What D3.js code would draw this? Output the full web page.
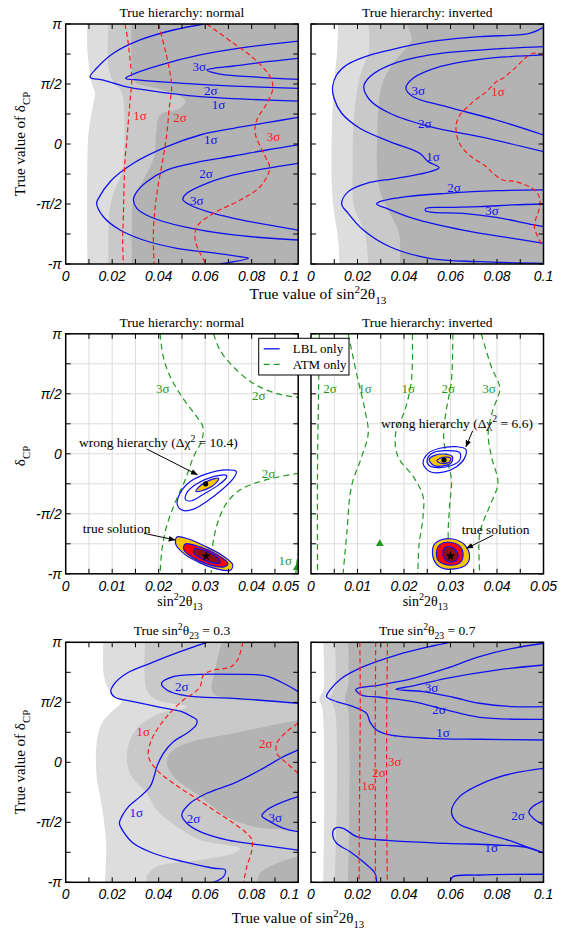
<!DOCTYPE html>
<html><head><meta charset="utf-8">
<script src="https://cdn.jsdelivr.net/npm/d3@7"></script>
<style>
body{margin:0;background:#fff}
svg{display:block}
</style></head><body><svg id="fig" width="568" height="930"></svg>
<script>
// all curves: [sin^2 2theta13, deltaCP / pi]

// ---- panel 1: true hierarchy normal (top left)
const p1Light = [[0.0093,1],[0.0093,0.783],[0.0102,0.617],[0.0112,0.506],[0.0126,0.422],[0.0116,0.311],[0.0098,0.089],[0.0093,-0.189],[0.0093,-1]];
const p1Mid = [[0.0184,1],[0.0184,0.644],[0.0205,0.519],[0.0241,0.436],[0.0251,0.311],[0.0251,-0.05],[0.0241,-0.244],[0.0205,-0.411],[0.0186,-0.606],[0.0184,-1]];
const p1Dark = [[0.0284,1],[0.0284,0.644],[0.0298,0.519],[0.0392,0.464],[0.0514,0.367],[0.0492,0.297],[0.0406,0.242],[0.0389,0.089],[0.038,-0.106],[0.0334,-0.3],[0.0291,-0.467],[0.0284,-0.744],[0.0284,-1]];
const p1Blue = [
  [[0.0593,1],[0.0463,0.95],[0.032,0.867],[0.0205,0.756],[0.0133,0.631],[0.0105,0.556],[0.0162,0.533],[0.0248,0.483],[0.0363,0.444],[0.0578,0.394],[0.0793,0.372],[0.1,0.358]],
  [[0.1,0.858],[0.0793,0.811],[0.0578,0.742],[0.0406,0.658],[0.0291,0.583],[0.0258,0.547],[0.032,0.533],[0.0506,0.506],[0.0722,0.483],[0.1,0.464]],
  [[0.1,0.714],[0.0865,0.686],[0.0722,0.65],[0.0636,0.631],[0.0607,0.617],[0.0664,0.583],[0.0836,0.556],[0.1,0.539]],
  [[0.1,0.222],[0.0865,0.178],[0.0722,0.131],[0.0578,0.075],[0.0435,-0.022],[0.0291,-0.161],[0.0191,-0.314],[0.0141,-0.453],[0.0133,-0.494],[0.0162,-0.606],[0.0234,-0.717],[0.0334,-0.8],[0.0478,-0.869],[0.065,-0.911],[0.075,-0.939],[0.0786,-0.953],[0.0664,-1]],
  [[0.1,-0.008],[0.0865,-0.05],[0.0722,-0.1],[0.0578,-0.147],[0.0435,-0.217],[0.0349,-0.314],[0.0306,-0.397],[0.0291,-0.467],[0.0306,-0.536],[0.0363,-0.606],[0.0506,-0.689],[0.0722,-0.758],[0.1,-0.8]],
  [[0.1,-0.161],[0.0865,-0.203],[0.0722,-0.258],[0.0607,-0.328],[0.0521,-0.411],[0.0504,-0.461],[0.0535,-0.508],[0.0636,-0.578],[0.0793,-0.647],[0.1,-0.717]]
];
const p1Red = [
  [[0.0255,1],[0.0267,0.867],[0.028,0.644],[0.0284,0.533],[0.0277,0.367],[0.027,0.2],[0.0263,0.033],[0.0255,-0.133],[0.0251,-0.356],[0.0248,-0.606],[0.0245,-0.8],[0.0248,-1]],
  [[0.0399,1],[0.0428,0.783],[0.0449,0.589],[0.0456,0.478],[0.0446,0.311],[0.0435,0.089],[0.042,-0.106],[0.0399,-0.328],[0.0385,-0.522],[0.0377,-0.744],[0.038,-1]],
  [[0.0607,1],[0.0722,0.839],[0.0808,0.714],[0.0879,0.561],[0.0891,0.464],[0.0865,0.339],[0.0822,0.2],[0.0815,0.089],[0.0851,-0.078],[0.0877,-0.203],[0.0836,-0.356],[0.075,-0.467],[0.0636,-0.578],[0.0564,-0.689],[0.0557,-0.8],[0.0578,-0.911],[0.0604,-1]]
];
const p1BlueLbl = [[0.0575,0.644,"3σ"],[0.0624,0.444,"2σ"],[0.0657,0.333,"1σ"],[0.0624,0.039,"1σ"],[0.0603,-0.244,"2σ"],[0.0564,-0.467,"3σ"]];
const p1RedLbl = [[0.032,0.242,"1σ"],[0.0492,0.222,"2σ"],[0.0894,0.067,"3σ"]];

// ---- panel 2: true hierarchy inverted (top right)
const p2Light = [[0.0117,1],[0.0113,0.783],[0.0099,0.506],[0.0089,0.089],[0.0093,-0.467],[0.0117,-0.8],[0.0122,-1]];
const p2Mid = [[0.0246,1],[0.025,0.783],[0.021,0.561],[0.0185,0.228],[0.0179,-0.189],[0.0185,-0.522],[0.0232,-0.744],[0.0246,-1]];
const p2Dark = [[0.0411,1],[0.0432,0.867],[0.0353,0.672],[0.0303,0.478],[0.0285,0.089],[0.0292,-0.356],[0.0339,-0.578],[0.0379,-0.744],[0.0382,-1]];
const p2Blue = [
  [[0.1,0.972],[0.094,0.922],[0.0725,0.894],[0.0511,0.853],[0.0339,0.783],[0.0225,0.722],[0.0153,0.658],[0.011,0.575],[0.0093,0.478],[0.0099,0.381],[0.0132,0.256],[0.021,0.131],[0.0339,0.019],[0.0468,-0.078],[0.0504,-0.147],[0.0551,-0.197],[0.0496,-0.239],[0.0368,-0.286],[0.0239,-0.328],[0.016,-0.397],[0.0132,-0.5],[0.016,-0.578],[0.0225,-0.717],[0.0339,-0.856],[0.0511,-0.953],[0.0725,-0.981],[0.1,-0.994]],
  [[0.1,0.811],[0.0725,0.783],[0.0511,0.742],[0.0339,0.658],[0.0253,0.561],[0.0227,0.478],[0.0253,0.367],[0.0339,0.256],[0.0511,0.144],[0.0725,0.061],[0.1,-0.064]],
  [[0.1,0.742],[0.0725,0.706],[0.0554,0.644],[0.0439,0.547],[0.0408,0.464],[0.0439,0.394],[0.0582,0.311],[0.0797,0.2],[0.1,0.075]],
  [[0.1,-0.383],[0.0797,-0.389],[0.0582,-0.411],[0.0411,-0.439],[0.0296,-0.481],[0.0282,-0.5],[0.0325,-0.536],[0.0439,-0.619],[0.0654,-0.717],[0.0868,-0.786],[0.1,-0.828]],
  [[0.1,-0.5],[0.0868,-0.508],[0.0725,-0.522],[0.0582,-0.528],[0.0496,-0.536],[0.0492,-0.556],[0.0525,-0.569],[0.0654,-0.578],[0.0797,-0.611],[0.094,-0.667],[0.1,-0.689]]
];
const p2Red = [
  [[0.1,0.742],[0.0954,0.756],[0.0868,0.617],[0.0825,0.547],[0.0797,0.519],[0.0754,0.436],[0.069,0.339],[0.0632,0.214],[0.0625,0.089],[0.0647,-0.022],[0.069,-0.106],[0.0754,-0.189],[0.0783,-0.244],[0.0825,-0.3],[0.0883,-0.314],[0.0969,-0.397],[0.0986,-0.494],[0.0961,-0.689],[0.099,-0.828]]
];
const p2BlueLbl = [[0.0461,0.45,"3σ"],[0.0489,0.172,"2σ"],[0.0525,-0.106,"1σ"],[0.0615,-0.364,"2σ"],[0.0778,-0.55,"3σ"]];
const p2RedLbl = [[0.0804,0.436,"1σ"]];

// ---- panel 3: LBL vs ATM, normal (middle left)
const p3Green = [
  [[0.0203,1],[0.021,0.806],[0.0225,0.64],[0.025,0.474],[0.0282,0.308],[0.0295,0.225],[0.0293,0.115],[0.0275,-0.024],[0.0257,-0.217],[0.0235,-0.411],[0.0217,-0.604],[0.0207,-0.798],[0.0203,-1]],
  [[0.0318,1],[0.0332,0.862],[0.0361,0.723],[0.0404,0.585],[0.0454,0.502],[0.0502,0.469]],
  [[0.0502,-0.162],[0.0461,-0.19],[0.0418,-0.231],[0.0375,-0.3],[0.0346,-0.411],[0.0329,-0.549],[0.0318,-0.715],[0.0314,-0.853],[0.0313,-1]],
  [[0.0502,-0.798],[0.0497,-0.909],[0.0495,-1]]
];
const p3GreenLbl = [[0.0209,0.544,"3σ"],[0.0415,0.488,"2σ"],[0.0436,-0.167,"2σ"],[0.0472,-0.887,"1σ"]];
const p3WrongRings = [
  [[0.0367,-0.148],[0.0346,-0.134],[0.0303,-0.167],[0.0268,-0.231],[0.0246,-0.328],[0.024,-0.425],[0.0252,-0.472],[0.0275,-0.461],[0.0303,-0.397],[0.0336,-0.3],[0.0361,-0.203]],
  [[0.0346,-0.181],[0.0318,-0.19],[0.0282,-0.25],[0.026,-0.328],[0.0258,-0.383],[0.0271,-0.391],[0.03,-0.328],[0.0329,-0.259],[0.0345,-0.203]],
  [[0.0329,-0.203],[0.0303,-0.231],[0.0286,-0.278],[0.028,-0.314],[0.0293,-0.308],[0.0314,-0.272],[0.0326,-0.231]]
];
const p3TrueRings = [
  [[0.0239,-0.693],[0.0264,-0.71],[0.0303,-0.776],[0.0339,-0.853],[0.0359,-0.923],[0.0354,-0.97],[0.0325,-0.959],[0.0289,-0.909],[0.0257,-0.84],[0.0237,-0.757]],
  [[0.0257,-0.751],[0.0289,-0.776],[0.0325,-0.84],[0.0349,-0.914],[0.034,-0.942],[0.0303,-0.917],[0.0271,-0.859],[0.0254,-0.798]],
  [[0.0278,-0.792],[0.0303,-0.812],[0.0329,-0.876],[0.0331,-0.909],[0.0311,-0.903],[0.0289,-0.867],[0.0275,-0.826]]
];
const p3WrongDot = [0.0301,-0.25];
const p3TrueStar = [0.0302,-0.853];
const p3Tri = [0.0497,-0.95];
const p3Notes = [
  {text:[["wrong hierarchy (Δχ",""],["2","sup"],[" = 10.4)",""]], at:[0.00286,0.053], from:[0.01742,0.04], to:[0.0283,-0.174]},
  {text:[["true solution",""]], at:[0.00366,-0.664], from:[0.01682,-0.6625], to:[0.02351,-0.718]}
];

// ---- panel 4: LBL vs ATM, inverted (middle right)
const p4Green = [
  [[0.0018,1],[0.0016,0.447],[0.0014,-0.107],[0.0014,-1]],
  [[0.008,1],[0.0098,0.668],[0.0116,0.364],[0.0123,0.17],[0.0109,-0.024],[0.0087,-0.272],[0.0077,-0.66],[0.0069,-1]],
  [[0.0218,1],[0.0216,0.613],[0.0202,0.364],[0.0182,0.17],[0.0187,-0.024],[0.022,-0.19],[0.0241,-0.355],[0.0241,-0.521],[0.0232,-0.77],[0.023,-1]],
  [[0.0305,1],[0.0302,0.613],[0.0291,0.364],[0.0285,0.17],[0.0291,-0.024],[0.0302,-0.217],[0.0298,-0.438],[0.0295,-0.66],[0.0298,-1]],
  [[0.0366,1],[0.0388,0.723],[0.0406,0.544],[0.0391,0.364],[0.0381,0.17],[0.0388,-0.024],[0.0402,-0.245],[0.0384,-0.438],[0.0363,-0.66],[0.0363,-1]]
];
const p4GreenLbl = [[0.0041,0.544,"2σ"],[0.0116,0.544,"1σ"],[0.0209,0.544,"1σ"],[0.0295,0.544,"2σ"],[0.0383,0.544,"3σ"]];
const p4WrongRings = [
  [[0.0241,-0.079],[0.0252,0.004],[0.0277,0.046],[0.0313,0.059],[0.0333,0.037],[0.033,-0.038],[0.0313,-0.107],[0.0284,-0.153],[0.0255,-0.148]],
  [[0.025,-0.046],[0.0263,0.01],[0.0291,0.026],[0.032,0.01],[0.032,-0.051],[0.0302,-0.098],[0.0273,-0.115],[0.0253,-0.093]],
  [[0.0254,-0.046],[0.0266,-0.013],[0.0291,-0.004],[0.0304,-0.024],[0.0302,-0.073],[0.0284,-0.101],[0.0263,-0.095]],
  [[0.0271,-0.057],[0.0284,-0.029],[0.03,-0.035],[0.0297,-0.071],[0.028,-0.079]]
];
const p4TrueRings = [
  [[0.0263,-0.77],[0.0277,-0.72],[0.0305,-0.71],[0.033,-0.757],[0.0341,-0.853],[0.0334,-0.923],[0.0309,-0.959],[0.028,-0.95],[0.0264,-0.881]],
  [[0.027,-0.812],[0.0277,-0.757],[0.0298,-0.737],[0.032,-0.77],[0.0327,-0.848],[0.032,-0.909],[0.0298,-0.928],[0.0275,-0.895]],
  [[0.0284,-0.812],[0.0291,-0.776],[0.0305,-0.784],[0.0316,-0.84],[0.0313,-0.887],[0.0297,-0.9],[0.0286,-0.867]]
];
const p4WrongDot = [0.0286,-0.051];
const p4TrueStar = [0.03,-0.853];
const p4Tri = [0.0148,-0.75];
const p4Notes = [
  {text:[["wrong hierarchy (Δχ",""],["2","sup"],[" = 6.6)",""]], at:[0.01505,0.219], from:[0.03477,0.1925], to:[0.03333,0.059]},
  {text:[["true solution",""]], at:[0.0324,-0.668], from:[0.0392,-0.677], to:[0.03348,-0.7875]}
];

// ---- panel 5: true sin^2 theta23 = 0.3 (bottom left)
const p5Light = [[0.0162,1],[0.0165,0.714],[0.0191,0.589],[0.0241,0.506],[0.0205,0.436],[0.0155,0.325],[0.0133,0.158],[0.0133,-0.119],[0.0148,-0.286],[0.0162,-0.453],[0.0174,-0.675],[0.0169,-1]];
const p5Mid = [[0.0341,1],[0.0349,0.603],[0.0392,0.519],[0.0521,0.464],[0.0406,0.408],[0.032,0.311],[0.0277,0.186],[0.0263,0.019],[0.0284,-0.119],[0.0349,-0.258],[0.0392,-0.397],[0.0478,-0.536],[0.0578,-0.647],[0.075,-0.717],[0.0722,-0.758],[0.0578,-0.814],[0.0392,-0.869],[0.0349,-0.953],[0.0349,-1]];
const p5DarkTop = [[0.0671,1],[0.0636,0.714],[0.0628,0.603],[0.0664,0.542],[0.1,0.506]];
const p5DarkMid = [[0.1,0.353],[0.0722,0.242],[0.0521,0.158],[0.0449,0.075],[0.0435,-0.008],[0.0463,-0.119],[0.0578,-0.286],[0.0693,-0.453],[0.0808,-0.536],[0.1,-0.564]];
const p5DarkLow = [[0.1,-0.786],[0.0908,-0.842],[0.0836,-0.925],[0.0822,-1]];
const p5Blue = [
  [[0.0607,1],[0.0492,0.922],[0.0363,0.825],[0.0263,0.742],[0.0205,0.644],[0.0194,0.589],[0.0212,0.542],[0.0291,0.506],[0.0392,0.464],[0.0499,0.422],[0.0542,0.381],[0.0564,0.353],[0.0561,0.311],[0.0521,0.242],[0.0463,0.172],[0.042,0.075],[0.0392,-0.036],[0.038,-0.119],[0.0363,-0.203],[0.032,-0.286],[0.027,-0.369],[0.0241,-0.453],[0.0231,-0.508],[0.0248,-0.578],[0.0291,-0.675],[0.0377,-0.758],[0.0506,-0.828],[0.0636,-0.883],[0.0686,-0.897],[0.0679,-0.953],[0.0636,-1]],
  [[0.1,0.589],[0.0951,0.644],[0.0865,0.719],[0.0722,0.733],[0.0578,0.733],[0.0463,0.714],[0.0412,0.658],[0.0435,0.603],[0.0521,0.553],[0.0722,0.533],[0.1,0.492]],
  [[0.1,0.103],[0.0937,0.047],[0.0836,-0.064],[0.0722,-0.175],[0.0607,-0.258],[0.0535,-0.342],[0.0499,-0.439],[0.0521,-0.508],[0.0578,-0.578],[0.0693,-0.647],[0.0836,-0.689],[0.1,-0.731]],
  [[0.1,-0.286],[0.0937,-0.328],[0.0865,-0.397],[0.0844,-0.447],[0.0879,-0.494],[0.0937,-0.55],[0.1,-0.578]]
];
const p5Red = [
  [[0.0762,1],[0.0739,0.853],[0.0707,0.792],[0.0636,0.769],[0.0593,0.728],[0.0578,0.631],[0.0549,0.575],[0.0506,0.519],[0.0435,0.381],[0.0392,0.269],[0.0363,0.158],[0.0356,0.047],[0.0392,-0.064],[0.0463,-0.175],[0.0549,-0.286],[0.0636,-0.397],[0.0722,-0.508],[0.0779,-0.592],[0.0801,-0.647],[0.0801,-0.731],[0.0779,-0.869],[0.0765,-1]],
  [[0.1,0.325],[0.0951,0.256],[0.0908,0.158],[0.0908,0.075],[0.0951,-0.008],[0.1,-0.092]]
];
const p5BlueLbl = [[0.0499,0.636,"2σ"],[0.0303,-0.417,"1σ"],[0.055,-0.472,"2σ"],[0.0901,-0.458,"3σ"]];
const p5RedLbl = [[0.0334,0.256,"1σ"],[0.0861,0.158,"2σ"]];

// ---- panel 6: true sin^2 theta23 = 0.7 (bottom right)
const p6Light = [[0.0053,1],[0.0053,0.603],[0.0036,0.533],[0.005,0.436],[0.0053,-1]];
const p6Mid = [[0.0103,1],[0.0103,0.631],[0.0082,0.533],[0.0103,0.436],[0.0103,-1]];
const p6Dark = [[0.016,1],[0.016,0.644],[0.0146,0.533],[0.016,0.436],[0.016,-1]];
const p6Blue = [
  [[0.0597,1],[0.0511,0.964],[0.0368,0.894],[0.0225,0.797],[0.0132,0.7],[0.0082,0.603],[0.0067,0.547],[0.011,0.506],[0.0182,0.464],[0.0239,0.408],[0.0253,0.339],[0.0282,0.269],[0.0339,0.228],[0.0511,0.2],[0.0725,0.192],[0.1,0.186]],
  [[0.1,0.992],[0.0868,0.95],[0.0725,0.881],[0.0582,0.783],[0.0439,0.7],[0.0296,0.644],[0.0193,0.608],[0.0217,0.561],[0.0296,0.542],[0.0439,0.506],[0.0582,0.436],[0.0725,0.375],[0.1,0.358]],
  [[0.1,0.811],[0.0797,0.769],[0.0582,0.7],[0.0439,0.636],[0.0365,0.608],[0.0482,0.589],[0.0611,0.542],[0.0725,0.492],[0.0868,0.464],[0.1,0.464]],
  [[0.1,-0.05],[0.0868,-0.092],[0.0754,-0.161],[0.0639,-0.286],[0.0604,-0.411],[0.0632,-0.508],[0.0725,-0.578],[0.0868,-0.661],[0.0933,-0.708],[0.1,-0.753]],
  [[0.0282,-1],[0.0275,-0.925],[0.0232,-0.842],[0.0167,-0.744],[0.011,-0.675],[0.0093,-0.606],[0.0103,-0.55],[0.0139,-0.55],[0.0196,-0.619],[0.0339,-0.653],[0.0582,-0.675],[0.0797,-0.689],[0.0926,-0.708],[0.1,-0.758]],
  [[0.1,-0.319],[0.0954,-0.369],[0.0937,-0.417],[0.0961,-0.475],[0.1,-0.522]],
  [[0.0597,-1],[0.0611,-0.953],[0.0725,-0.939],[0.1,-0.933]]
];
const p6Red = [
  [[0.021,1],[0.0212,0.5],[0.021,0],[0.0208,-0.5],[0.0207,-1]],
  [[0.0278,1],[0.0277,0.5],[0.0276,0],[0.0277,-0.5],[0.0277,-1]],
  [[0.0329,1],[0.0326,0.5],[0.0325,0],[0.0326,-0.5],[0.0328,-1]]
];
const p6BlueLbl = [[0.0518,0.622,"3σ"],[0.0551,0.442,"2σ"],[0.0568,0.247,"1σ"],[0.089,-0.439,"2σ"],[0.0775,-0.708,"1σ"]];
const p6RedLbl = [[0.0246,-0.189,"1σ"],[0.0293,-0.086,"2σ"],[0.036,0.006,"3σ"]];

// axis ticks
const yTicks = [-1,-0.5,0,0.5,1];
const yTickLabels = ["-π","-π/2","0","π/2","π"];
const yMinor = [-0.75,-0.25,0.25,0.75];
const xTicksWide = [0,0.02,0.04,0.06,0.08,0.1];
const xTickLabelsWide = ["0","0.02","0.04","0.06","0.08","0.1"];
const xTicksNarrow = [0,0.01,0.02,0.03,0.04,0.05];
const xTickLabelsNarrow = ["0","0.01","0.02","0.03","0.04","0.05"];

const titleNormal = [["True hierarchy: normal",""]];
const titleInverted = [["True hierarchy: inverted",""]];
const titleT03 = [["True sin",""],["2","sup"],["θ",""],["23","sub"],[" = 0.3",""]];
const titleT07 = [["True sin",""],["2","sup"],["θ",""],["23","sub"],[" = 0.7",""]];
const xLabelTrue = [["True value of sin",""],["2","sup"],["2θ",""],["13","sub"]];
const xLabelShort = [["sin",""],["2","sup"],["2θ",""],["13","sub"]];
const yLabelTrue = [["True value of δ",""],["CP","sub"]];
const yLabelShort = [["δ",""],["CP","sub"]];
const legendItems = ["LBL only","ATM only"];

const BLUE = "#1010f0", RED = "#ff1a1a", GREEN = "#1f9a1f";
const GRAYS = ["#dddddd","#c9c9c9","#b3b3b3"];
const PW = 232.5, PH = 240;
const SERIF = '"Liberation Serif","Times New Roman",Times,serif';
const SANS = '"Liberation Sans",Arial,Helvetica,sans-serif';

const svg = d3.select('#fig');
const defs = svg.append('defs');
defs.append('marker').attr('id','arr').attr('viewBox','0 0 10 10').attr('refX',9).attr('refY',5)
  .attr('markerWidth',7).attr('markerHeight',7).attr('orient','auto')
  .append('path').attr('d','M0,1L10,5L0,9Z').attr('fill','#000');

function serif(sel, size){ return sel.attr('font-family',SERIF).attr('font-size',size); }
function tickText(sel){ return sel.attr('font-family',SANS).attr('font-style','italic').attr('font-size',14); }

function rich(sel, parts, fs){
  let shift = 0;
  parts.forEach(([t,k])=>{
    const target = k==='sup' ? -0.42*fs : k==='sub' ? 0.3*fs : 0;
    const ts = sel.append('tspan').attr('dy', target-shift).text(t);
    if(k) ts.attr('font-size', fs*0.72);
    shift = target;
  });
}

const panels = [
  {id:1, x:65.7, y:24, xmax:0.1, gray:[[p1Light],[p1Mid],[p1Dark]], blue:p1Blue, red:p1Red, blueLbl:p1BlueLbl, redLbl:p1RedLbl, title:titleNormal, left:true},
  {id:2, x:311, y:24, xmax:0.1, gray:[[p2Light],[p2Mid],[p2Dark]], blue:p2Blue, red:p2Red, blueLbl:p2BlueLbl, redLbl:p2RedLbl, title:titleInverted},
  {id:3, x:65.7, y:333.8, xmax:0.05, grid:true, green:p3Green, greenLbl:p3GreenLbl, wrong:p3WrongRings, truth:p3TrueRings, dot:p3WrongDot, star:p3TrueStar, tri:p3Tri, notes:p3Notes, title:titleNormal, left:true},
  {id:4, x:311, y:333.8, xmax:0.05, grid:true, green:p4Green, greenLbl:p4GreenLbl, wrong:p4WrongRings, truth:p4TrueRings, dot:p4WrongDot, star:p4TrueStar, tri:p4Tri, notes:p4Notes, title:titleInverted},
  {id:5, x:65.7, y:642.3, xmax:0.1, gray:[[p5Light],[p5Mid],[p5DarkMid]], darkExtra:true, blue:p5Blue, red:p5Red, blueLbl:p5BlueLbl, redLbl:p5RedLbl, title:titleT03, left:true},
  {id:6, x:311, y:642.3, xmax:0.1, gray:[[p6Light],[p6Mid],[p6Dark]], blue:p6Blue, red:p6Red, blueLbl:p6BlueLbl, redLbl:p6RedLbl, title:titleT07}
];

panels.forEach(p=>{
  const g = svg.append('g').attr('transform',`translate(${p.x},${p.y})`);
  const x = d3.scaleLinear().domain([0,p.xmax]).range([0,PW]);
  const y = d3.scaleLinear().domain([-1,1]).range([PH,0]);
  const line = d3.line().x(d=>x(d[0])).y(d=>y(d[1])).curve(d3.curveCatmullRom.alpha(0.5));
  const ring = d3.line().x(d=>x(d[0])).y(d=>y(d[1])).curve(d3.curveCatmullRomClosed.alpha(0.5));
  const corner = c => `L${x(c[0])},${y(c[1])}`;

  defs.append('clipPath').attr('id','c'+p.id).append('rect').attr('width',PW).attr('height',PH);
  const body = g.append('g').attr('clip-path',`url(#c${p.id})`);
  body.append('rect').attr('width',PW).attr('height',PH).attr('fill','#fff');

  if(p.gray){
    p.gray.forEach((set,i)=>{
      set.forEach(b=>{
        let d = line(b);
        if(b[0][1]===1 && b[b.length-1][1]===-1) d += corner([p.xmax*1.05,-1.05]) + corner([p.xmax*1.05,1.05]);
        body.append('path').attr('d', d+'Z').attr('fill',GRAYS[i]);
      });
    });
    if(p.darkExtra){
      body.append('path').attr('d', line(p5DarkTop)+corner([0.105,0.506])+corner([0.105,1.05])+corner([0.0671,1.05])+'Z').attr('fill',GRAYS[2]);
      body.append('path').attr('d', line(p5DarkLow)+corner([0.0822,-1.05])+corner([0.105,-1.05])+corner([0.105,-0.786])+'Z').attr('fill',GRAYS[2]);
    }
  }
  if(p.grid){
    body.selectAll('.gx').data(d3.range(1,10).map(i=>i*0.005)).join('line')
      .attr('x1',d=>x(d)).attr('x2',d=>x(d)).attr('y1',0).attr('y2',PH).attr('stroke','#dcdcdc').attr('stroke-width',1);
    body.selectAll('.gy').data(yMinor.concat([-0.5,0,0.5])).join('line')
      .attr('y1',d=>y(d)).attr('y2',d=>y(d)).attr('x1',0).attr('x2',PW).attr('stroke','#dcdcdc').attr('stroke-width',1);
  }
  (p.blue||[]).forEach(c=> body.append('path').attr('d',line(c)).attr('fill','none').attr('stroke',BLUE).attr('stroke-width',1.3));
  (p.red||[]).forEach(c=> body.append('path').attr('d',line(c)).attr('fill','none').attr('stroke',RED).attr('stroke-width',1.2).attr('stroke-dasharray','5,3'));
  (p.green||[]).forEach(c=> body.append('path').attr('d',line(c)).attr('fill','none').attr('stroke',GREEN).attr('stroke-width',1.2).attr('stroke-dasharray','6,4'));

  if(p.wrong){
    p.wrong.forEach((c,i)=>{
      body.append('path').attr('d',ring(c)).attr('fill',i===2?'#f7c600':'none').attr('stroke',BLUE).attr('stroke-width',1.2);
    });
    const fills = ['#f7c600','#ff0000','#8e0f0f'];
    p.truth.forEach((c,i)=> body.append('path').attr('d',ring(c)).attr('fill',fills[i]).attr('stroke',BLUE).attr('stroke-width',1.2));
    body.append('circle').attr('cx',x(p.dot[0])).attr('cy',y(p.dot[1])).attr('r',2.6).attr('fill','#000');
    body.append('path').attr('d',d3.symbol(d3.symbolStar,28)()).attr('transform',`translate(${x(p.star[0])},${y(p.star[1])})`).attr('fill','#000');
    body.append('path').attr('d',d3.symbol(d3.symbolTriangle,26)()).attr('transform',`translate(${x(p.tri[0])},${y(p.tri[1])})`).attr('fill',GREEN);
  }

  const lbl = (arr,color)=> arr.forEach(([a,b,t])=> serif(body.append('text'),13).attr('x',x(a)).attr('y',y(b)).attr('dy','0.35em')
      .attr('text-anchor','middle').attr('fill',color).text(t));
  lbl(p.blueLbl||[],BLUE); lbl(p.redLbl||[],RED); lbl(p.greenLbl||[],GREEN);

  if(p.notes){
    p.notes.forEach(n=>{
      const t = serif(g.append('text'),13.5).attr('x',x(n.at[0])).attr('y',y(n.at[1])).attr('fill','#000');
      rich(t, n.text, 13.5);
      g.append('line').attr('x1',x(n.from[0])).attr('y1',y(n.from[1])).attr('x2',x(n.to[0])).attr('y2',y(n.to[1]))
        .attr('stroke','#000').attr('stroke-width',1).attr('marker-end','url(#arr)');
    });
  }

  // frame and inward ticks
  g.append('rect').attr('width',PW).attr('height',PH).attr('fill','none').attr('stroke','#000').attr('stroke-width',1.5);
  const xt = p.xmax===0.1 ? d3.range(1,10).map(i=>i*0.01) : d3.range(1,10).map(i=>i*0.005);
  xt.forEach(v=>{
    g.append('line').attr('x1',x(v)).attr('x2',x(v)).attr('y1',PH).attr('y2',PH-5).attr('stroke','#000');
    g.append('line').attr('x1',x(v)).attr('x2',x(v)).attr('y1',0).attr('y2',5).attr('stroke','#000');
  });
  yTicks.concat(yMinor).forEach(v=>{
    g.append('line').attr('y1',y(v)).attr('y2',y(v)).attr('x1',0).attr('x2',5).attr('stroke','#000');
    g.append('line').attr('y1',y(v)).attr('y2',y(v)).attr('x1',PW).attr('x2',PW-5).attr('stroke','#000');
  });
  const xv = p.xmax===0.1 ? xTicksWide : xTicksNarrow;
  const xl = p.xmax===0.1 ? xTickLabelsWide : xTickLabelsNarrow;
  xv.forEach((v,i)=>{
    const t = tickText(g.append('text')).attr('x',x(v)).attr('y',PH+17).attr('text-anchor','middle').text(xl[i]);
    // last label of a left panel runs up to the first label of its neighbour
    if(p.left && i===xv.length-1) t.attr('text-anchor','end').attr('x',x(v)+1);
  });
  if(p.left){
    yTicks.forEach((v,i)=> tickText(g.append('text')).attr('x',-4).attr('y',y(v)).attr('dy','0.35em').attr('text-anchor','end').text(yTickLabels[i]));
  }
  const tt = serif(g.append('text'),13.5).attr('x',PW/2).attr('y',-7).attr('text-anchor','middle');
  rich(tt, p.title, 13.5);
  if(p.grid){
    const xl2 = serif(g.append('text'),14).attr('x',PW/2 - 2).attr('y',PH+32).attr('text-anchor','middle');
    rich(xl2, xLabelShort, 14);
  }
});

// shared axis labels
function axisLabel(parts, px, py, rot, fs){
  const t = serif(svg.append('text'),fs).attr('text-anchor','middle')
    .attr('transform',`translate(${px},${py}) rotate(${rot})`);
  rich(t, parts, fs);
}
axisLabel(xLabelTrue, 318, 299, 0, 15.5);
axisLabel(xLabelTrue, 298, 923, 0, 15);
axisLabel(yLabelTrue, 25, 144, -90, 15);
axisLabel(yLabelShort, 25, 456, -90, 15);
axisLabel(yLabelTrue, 25, 762, -90, 15);

// legend
const lg = svg.append('g').attr('transform','translate(258.7,338.3)');
lg.append('rect').attr('width',90.3).attr('height',36.7).attr('fill','#fff').attr('stroke','#000').attr('stroke-width',1);
lg.append('line').attr('x1',5).attr('x2',21).attr('y1',10.5).attr('y2',10.5).attr('stroke',BLUE).attr('stroke-width',1.3);
lg.append('line').attr('x1',5).attr('x2',22).attr('y1',26).attr('y2',26).attr('stroke',GREEN).attr('stroke-width',1.3).attr('stroke-dasharray','6,4');
legendItems.forEach((t,i)=> serif(lg.append('text'),13).attr('x',34).attr('y',10.5+15.5*i).attr('dy','0.35em').text(t));
</script></body></html>
